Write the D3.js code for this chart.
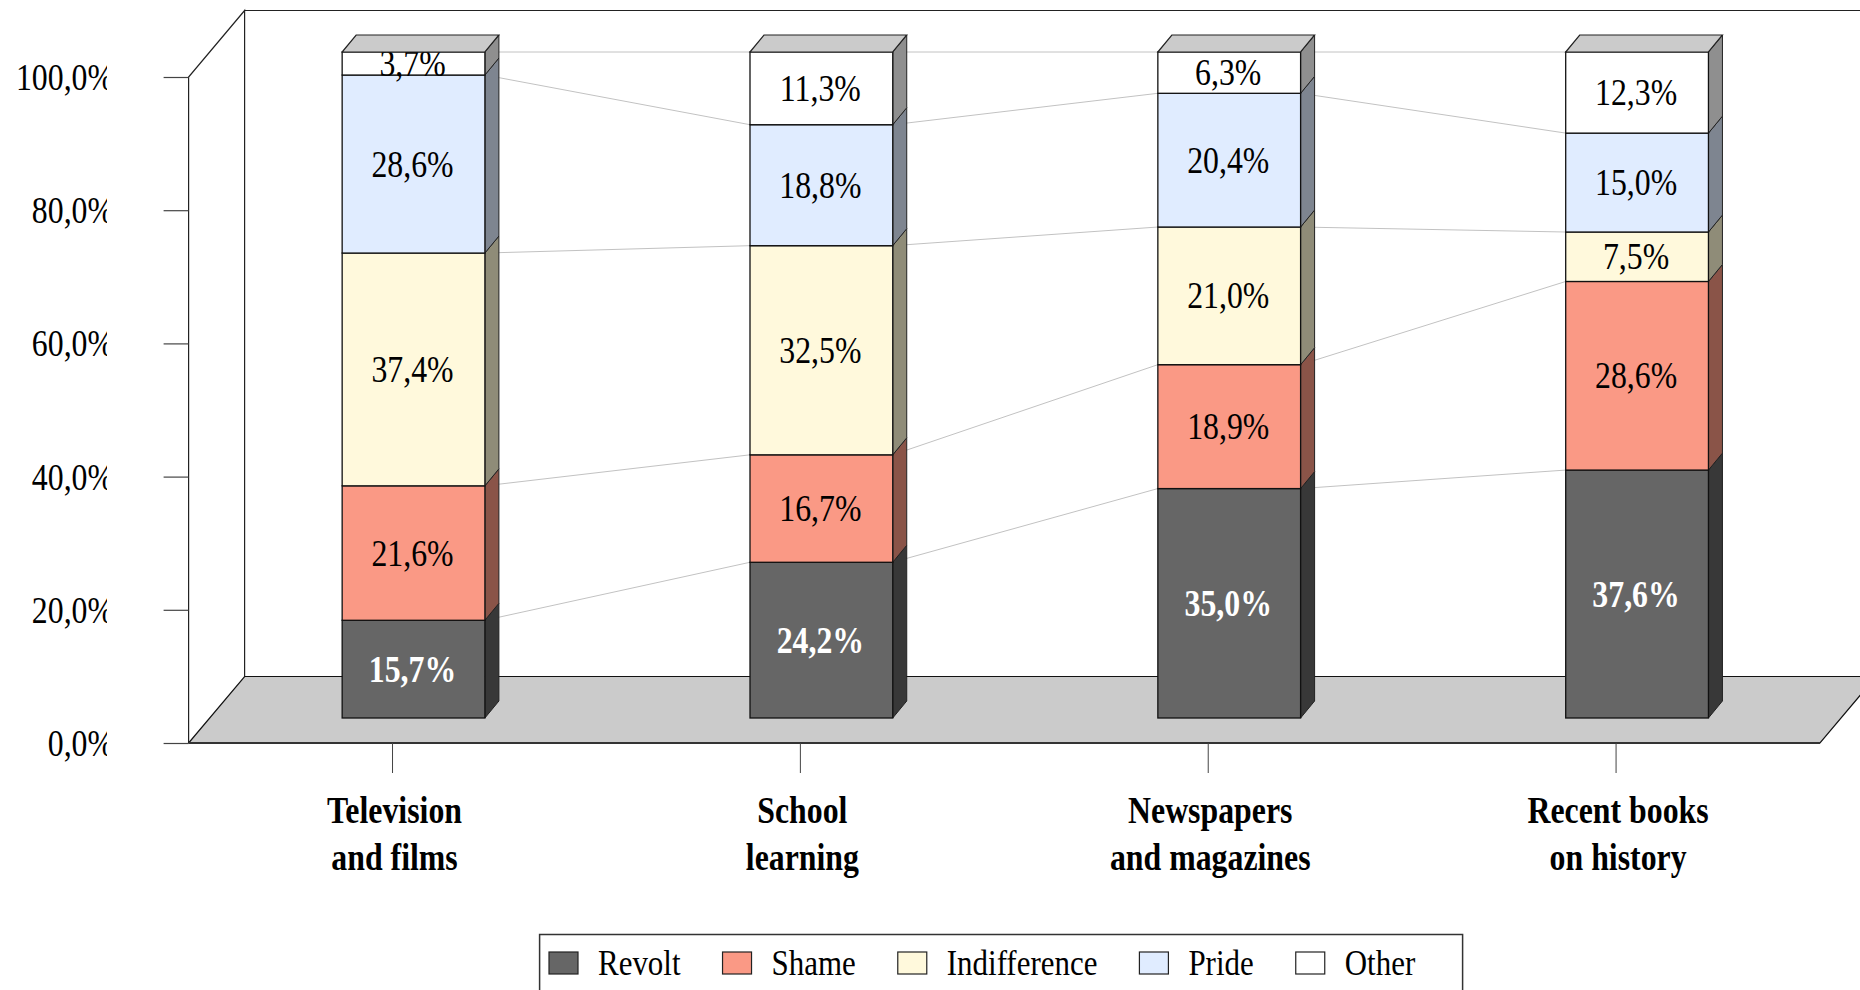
<!DOCTYPE html>
<html>
<head>
<meta charset="utf-8">
<script src="https://cdn.jsdelivr.net/npm/d3@7"></script>
<style>
  html, body { margin: 0; padding: 0; background: #fff; overflow: hidden; }
  text { font-family: "Liberation Serif", serif; }
</style>
</head>
<body>
<svg id="chart" width="1860" height="990"></svg>
<script>
// Values as printed on the chart (they do not add up to 100, the stacks are normalised)
var categories = ["Television and films", "School learning", "Newspapers and magazines", "Recent books on history"];
var categoryLines = [["Television", "and films"], ["School", "learning"], ["Newspapers", "and magazines"], ["Recent books", "on history"]];
var seriesNames = ["Revolt", "Shame", "Indifference", "Pride", "Other"];
var revolt = [15.7, 24.2, 35.0, 37.6];
var shame = [21.6, 16.7, 18.9, 28.6];
var indifference = [37.4, 32.5, 21.0, 7.5];
var pride = [28.6, 18.8, 20.4, 15.0];
var other = [3.7, 11.3, 6.3, 12.3];
var yTicks = [0, 0.2, 0.4, 0.6, 0.8, 1];

var colors = ["#666666", "#fa9985", "#fff9dc", "#e0ecff", "#ffffff"];
var sideColors = ["#383838", "#8a5448", "#8f8c78", "#7e8590", "#8f8f8f"];

// Layout
var plotLeft = 188.6, plotRight = 1820, plotTop = 77, plotBottom = 743;
var depthX = 56, depthY = 66.5;       // floor depth
var barShiftX = 21, barShiftY = 25;   // where the bars stand on the floor
var barDepthX = 14, barDepthY = 17;
var squeeze = 0.86;                   // the reference text is horizontally condensed
var fontSize = 37;

var rows = categories.map(function (c, i) {
    return {category: c, Revolt: revolt[i], Shame: shame[i], Indifference: indifference[i], Pride: pride[i], Other: other[i]};
});
var stacked = d3.stack().keys(seriesNames).offset(d3.stackOffsetExpand)(rows);

var x = d3.scaleBand().domain(categories).range([plotLeft, plotRight]).paddingInner(0.65).paddingOuter(0.325);
var y = d3.scaleLinear().domain([0, 1]).range([plotBottom, plotTop]);
var commaPct = function (v) { return d3.format(".1f")(v).replace(".", ",") + "%"; };

var svg = d3.select("#chart");

svg.append("defs").append("clipPath").attr("id", "yLabelClip")
    .append("rect").attr("x", 0).attr("y", 0).attr("width", 107).attr("height", 800);

// Walls
var wall = svg.append("g").attr("fill", "none").attr("stroke", "#222").attr("stroke-width", 1.2);
wall.append("path").attr("d", d3.line()([
    [plotLeft, plotBottom], [plotLeft, plotTop], [plotLeft + depthX, plotTop - depthY], [plotLeft + depthX, plotBottom - depthY]
]));
wall.append("path").attr("d", d3.line()([[plotLeft + depthX, plotTop - depthY], [1860, plotTop - depthY]]));

// Floor
svg.append("path")
    .attr("d", d3.line()([
        [plotLeft, plotBottom], [plotRight, plotBottom], [plotRight + depthX, plotBottom - depthY], [plotLeft + depthX, plotBottom - depthY]
    ]) + "Z")
    .attr("fill", "#cbcbcb").attr("stroke", "#111").attr("stroke-width", 1.2);
svg.append("line").attr("x1", plotLeft).attr("x2", plotRight).attr("y1", plotBottom).attr("y2", plotBottom)
    .attr("stroke", "#333").attr("stroke-width", 2);

// Y axis
var yAxis = svg.append("g").attr("transform", "translate(" + plotLeft + ",0)")
    .call(d3.axisLeft(y).tickValues(yTicks).tickSize(25).tickFormat(function (d) { return commaPct(d * 100); }));
yAxis.select(".domain").remove();
yAxis.selectAll(".tick line").attr("stroke", "#444").attr("stroke-width", 1.2);
yAxis.selectAll(".tick text")
    .attr("font-size", fontSize).attr("fill", "#000").attr("font-family", "Liberation Serif")
    .attr("clip-path", null)
    .attr("x", 0).attr("dy", "0.34em")
    .attr("text-anchor", "end")
    .attr("transform", "translate(" + (114 - plotLeft) + ",0) scale(" + squeeze + ",1)");
// clip has to sit on a wrapper, the text itself is scaled
yAxis.selectAll(".tick").each(function () {
    var tick = d3.select(this), t = tick.attr("transform");
    var yPos = +t.match(/,\s*([\d.]+)/)[1];
    tick.select("text").each(function () {
        var holder = tick.append("g").attr("clip-path", "url(#yLabelClip)")
            .attr("transform", "translate(" + (-plotLeft) + "," + (-yPos) + ")");
        var inner = holder.append("g").attr("transform", "translate(" + plotLeft + "," + yPos + ")");
        inner.node().appendChild(this);
    });
});

// X axis
var xAxis = svg.append("g").attr("transform", "translate(0," + plotBottom + ")")
    .call(d3.axisBottom(x).tickSize(30).tickFormat(""));
xAxis.select(".domain").remove();
xAxis.selectAll(".tick line").attr("stroke", "#444").attr("stroke-width", 1);
xAxis.selectAll(".tick text").remove();

var catLabels = svg.append("g").attr("font-weight", "bold").attr("font-size", fontSize).attr("text-anchor", "middle");
categoryLines.forEach(function (lines, i) {
    lines.forEach(function (line, j) {
        catLabels.append("text")
            .attr("transform", "translate(" + (x(categories[i]) + x.bandwidth() / 2 + 2) + "," + (823 + j * 47) + ") scale(" + squeeze + ",1)")
            .text(line);
    });
});

// Series lines between the bars
var barLeft = function (c) { return x(c) + barShiftX; };
var barRight = function (c) { return x(c) + barShiftX + x.bandwidth(); };
var barY = function (v) { return y(v) - barShiftY; };
var connectors = svg.append("g").attr("stroke", "#c2c2c2").attr("stroke-width", 1).attr("fill", "none");
stacked.forEach(function (layer) {
    d3.pairs(layer).forEach(function (p) {
        connectors.append("line")
            .attr("x1", barRight(p[0].data.category)).attr("y1", barY(p[0][1]))
            .attr("x2", barLeft(p[1].data.category)).attr("y2", barY(p[1][1]));
    });
});

// Bars
var layers = svg.selectAll(".layer").data(stacked).enter().append("g").attr("class", "layer");

// side faces
layers.selectAll(".side").data(function (d) { return d; }).enter().append("path")
    .attr("class", "side")
    .attr("fill", function () { return sideColors[d3.select(this.parentNode).datum().index]; })
    .attr("stroke", "#222").attr("stroke-width", 1)
    .attr("d", function (d) {
        var r = barRight(d.data.category);
        return d3.line()([
            [r, barY(d[0])], [r + barDepthX, barY(d[0]) - barDepthY], [r + barDepthX, barY(d[1]) - barDepthY], [r, barY(d[1])]
        ]) + "Z";
    });

// front faces
layers.selectAll(".front").data(function (d) { return d; }).enter().append("rect")
    .attr("class", "front")
    .attr("x", function (d) { return barLeft(d.data.category); })
    .attr("y", function (d) { return barY(d[1]); })
    .attr("width", x.bandwidth())
    .attr("height", function (d) { return barY(d[0]) - barY(d[1]); })
    .attr("fill", function () { return colors[d3.select(this.parentNode).datum().index]; })
    .attr("stroke", "#111").attr("stroke-width", 1.3);

// top of each bar
svg.append("g").selectAll("path").data(stacked[stacked.length - 1]).enter().append("path")
    .attr("fill", "#cbcbcb").attr("stroke", "#222").attr("stroke-width", 1.2)
    .attr("d", function (d) {
        var l = barLeft(d.data.category), r = barRight(d.data.category), t = barY(d[1]);
        return d3.line()([[l, t], [l + barDepthX, t - barDepthY], [r + barDepthX, t - barDepthY], [r, t]]) + "Z";
    });

// Value labels
layers.selectAll(".value").data(function (d) { return d; }).enter().append("text")
    .attr("class", "value")
    .attr("font-size", fontSize)
    .attr("text-anchor", "middle")
    .attr("dy", "0.34em")
    .attr("fill", function () { return d3.select(this.parentNode).datum().index === 0 ? "#fff" : "#000"; })
    .attr("font-weight", function () { return d3.select(this.parentNode).datum().index === 0 ? "bold" : "normal"; })
    .attr("transform", function (d) {
        var cx = barLeft(d.data.category) + x.bandwidth() / 2 - 1;
        return "translate(" + cx + "," + (barY(d[0]) + barY(d[1])) / 2 + ") scale(" + squeeze + ",1)";
    })
    .text(function (d) {
        return commaPct(d.data[d3.select(this.parentNode).datum().key]);
    });

// Legend, runs off the bottom of the page like the reference
var legendTop = 934.5;
svg.append("rect").attr("x", 539.6).attr("y", legendTop).attr("width", 923).attr("height", 80)
    .attr("fill", "#fff").attr("stroke", "#333").attr("stroke-width", 1.5);
var legendX = 549;
seriesNames.forEach(function (name, i) {
    svg.append("rect").attr("x", legendX).attr("y", 952).attr("width", 29).attr("height", 22)
        .attr("fill", colors[i]).attr("stroke", "#222").attr("stroke-width", 1.2);
    var label = svg.append("text")
        .attr("font-size", 36)
        .attr("transform", "translate(" + (legendX + 49) + ",975) scale(" + squeeze + ",1)")
        .text(name);
    legendX += 49 + label.node().getComputedTextLength() * squeeze + 42;
});
</script>
</body>
</html>
